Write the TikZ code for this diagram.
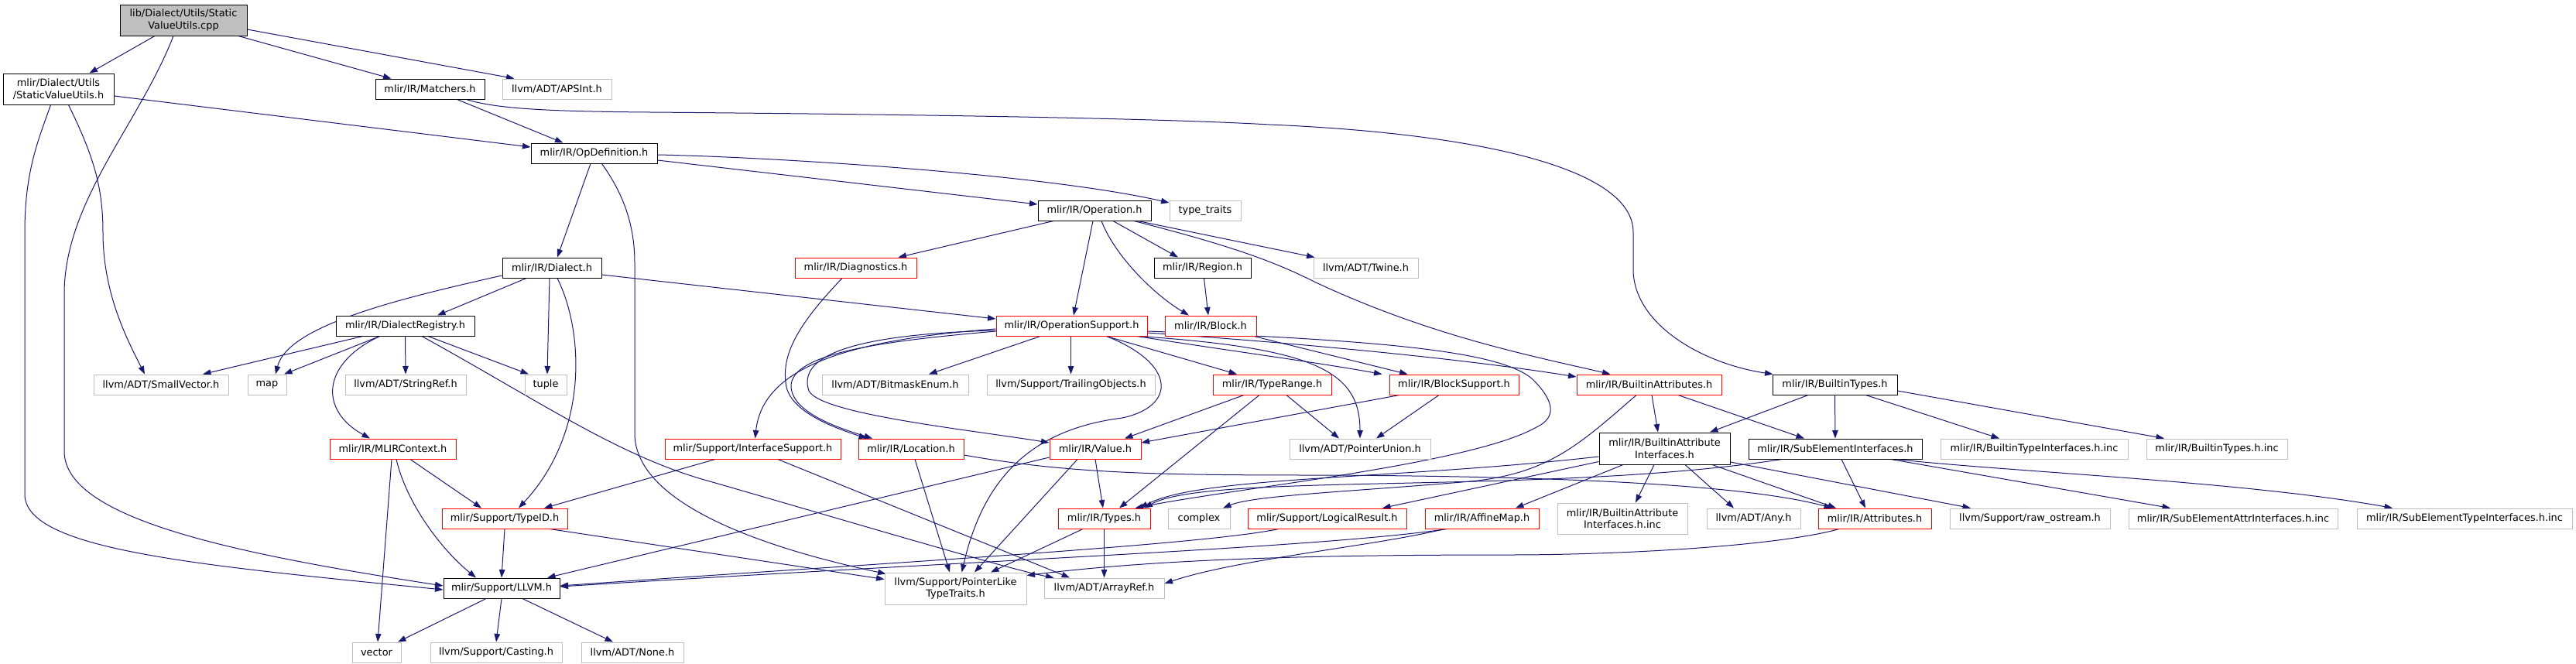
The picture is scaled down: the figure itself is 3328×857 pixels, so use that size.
\documentclass[tikz,border=0pt]{standalone}
\usepackage{fontspec}
\setmainfont{DejaVu Sans}
\usetikzlibrary{arrows.meta}
\pgfdeclarelayer{bg}
\pgfsetlayers{bg,main}
\definecolor{edgec}{HTML}{191970}
\definecolor{greyb}{HTML}{BFBFBF}
\definecolor{redb}{HTML}{FF0000}
\newcommand{\dxfont}{\fontsize{12.9}{15.5}\selectfont}
\tikzset{
  box/.style={rectangle, inner sep=0pt, minimum height=26pt, fill=white, line width=1pt, font=\dxfont, text=black},
  blk/.style={box, draw=black},
  ext/.style={box, draw=greyb},
  trn/.style={box, draw=redb},
  e/.style={draw=edgec, line width=1pt, -{Triangle[length=10.5pt,width=7.5pt]}},
}
\begin{document}
\begin{tikzpicture}[x=1pt,y=-1pt]
\useasboundingbox (0,0) rectangle (3328,857);
% ---------------- nodes ----------------
\node[blk, fill=greyb, minimum width=164pt, minimum height=40pt, align=center] (root) at (237,26) {lib/Dialect/Utils/Static\\ValueUtils.cpp};
\node[blk, minimum width=143pt, minimum height=40pt, align=center] (svu) at (75.5,115) {mlir/Dialect/Utils\\/StaticValueUtils.h};
\node[blk, minimum width=141pt] (matchers) at (555.5,115) {mlir/IR/Matchers.h};
\node[ext, minimum width=141pt] (apsint) at (719.5,115) {llvm/ADT/APSInt.h};
\node[blk, minimum width=163pt] (opdef) at (767.5,198) {mlir/IR/OpDefinition.h};
\node[blk, minimum width=146pt] (operation) at (1414,272) {mlir/IR/Operation.h};
\node[ext, minimum width=92pt] (typetraits) at (1557,272) {type\_traits};
\node[blk, minimum width=128pt] (dialect) at (713,346) {mlir/IR/Dialect.h};
\node[trn, minimum width=157pt] (diagnostics) at (1105.5,346) {mlir/IR/Diagnostics.h};
\node[blk, minimum width=125pt] (region) at (1553.5,346) {mlir/IR/Region.h};
\node[ext, minimum width=135pt] (twine) at (1764.5,346) {llvm/ADT/Twine.h};
\node[blk, minimum width=179pt] (dialreg) at (523.5,421) {mlir/IR/DialectRegistry.h};
\node[trn, minimum width=195pt] (opsupport) at (1384.5,421) {mlir/IR/OperationSupport.h};
\node[trn, minimum width=118pt] (block) at (1564,421) {mlir/IR/Block.h};
\node[ext, minimum width=174pt] (smallvec) at (208,497) {llvm/ADT/SmallVector.h};
\node[ext, minimum width=50pt] (map) at (345,497) {map};
\node[ext, minimum width=156pt] (stringref) at (524,497) {llvm/ADT/StringRef.h};
\node[ext, minimum width=54pt] (tuple) at (705,497) {tuple};
\node[ext, minimum width=189pt] (bitmask) at (1156.5,497) {llvm/ADT/BitmaskEnum.h};
\node[ext, minimum width=217pt] (trailing) at (1383.5,497) {llvm/Support/TrailingObjects.h};
\node[trn, minimum width=153pt] (typerange) at (1643.5,497) {mlir/IR/TypeRange.h};
\node[trn, minimum width=167pt] (blocksupport) at (1878.5,497) {mlir/IR/BlockSupport.h};
\node[trn, minimum width=187pt] (builtinattrs) at (2130.5,497) {mlir/IR/BuiltinAttributes.h};
\node[blk, minimum width=161pt] (builtintypes) at (2370.5,497) {mlir/IR/BuiltinTypes.h};
\node[trn, minimum width=163pt] (mlircontext) at (507.5,580) {mlir/IR/MLIRContext.h};
\node[trn, minimum width=227pt] (ifacesupport) at (972.5,580) {mlir/Support/InterfaceSupport.h};
\node[trn, minimum width=136pt] (location) at (1177,580) {mlir/IR/Location.h};
\node[trn, minimum width=118pt] (value) at (1415,580) {mlir/IR/Value.h};
\node[ext, minimum width=182pt] (ptrunion) at (1757,580) {llvm/ADT/PointerUnion.h};
\node[blk, minimum width=169pt, minimum height=41pt, align=center] (baiface) at (2150.5,579.5) {mlir/IR/BuiltinAttribute\\Interfaces.h};
\node[blk, minimum width=224pt] (subelem) at (2371,580) {mlir/IR/SubElementInterfaces.h};
\node[ext, minimum width=242pt] (btiinc) at (2628,580) {mlir/IR/BuiltinTypeInterfaces.h.inc};
\node[ext, minimum width=182pt] (btinc) at (2864,580) {mlir/IR/BuiltinTypes.h.inc};
\node[trn, minimum width=162pt] (typeid) at (652,670) {mlir/Support/TypeID.h};
\node[trn, minimum width=119pt] (types) at (1426.5,670) {mlir/IR/Types.h};
\node[ext, minimum width=80pt] (complex) at (1549,670) {complex};
\node[trn, minimum width=205pt] (logical) at (1714.5,670) {mlir/Support/LogicalResult.h};
\node[trn, minimum width=147pt] (affine) at (1914.5,670) {mlir/IR/AffineMap.h};
\node[ext, minimum width=168pt, minimum height=40pt, align=center] (baiinc) at (2096,670) {mlir/IR/BuiltinAttribute\\Interfaces.h.inc};
\node[ext, minimum width=121pt] (any) at (2265.5,670) {llvm/ADT/Any.h};
\node[trn, minimum width=146pt] (attributes) at (2422,670) {mlir/IR/Attributes.h};
\node[ext, minimum width=207pt] (rawostream) at (2622.5,670) {llvm/Support/raw\_ostream.h};
\node[ext, minimum width=270pt] (seainc) at (2885,670) {mlir/IR/SubElementAttrInterfaces.h.inc};
\node[ext, minimum width=278pt] (setinc) at (3184,670) {mlir/IR/SubElementTypeInterfaces.h.inc};
\node[blk, minimum width=150pt] (llvm) at (648,760) {mlir/Support/LLVM.h};
\node[ext, minimum width=183pt, minimum height=41pt, align=center] (ptrlike) at (1234.5,760.5) {llvm/Support/PointerLike\\TypeTraits.h};
\node[ext, minimum width=155pt] (arrayref) at (1426.5,760) {llvm/ADT/ArrayRef.h};
\node[ext, minimum width=63pt] (vector) at (486.5,843) {vector};
\node[ext, minimum width=170pt] (casting) at (641,843) {llvm/Support/Casting.h};
\node[ext, minimum width=132pt] (none) at (817,843) {llvm/ADT/None.h};
% ---------------- edges ----------------
\begin{pgfonlayer}{bg}
% root
\draw[e] ([xshift=-37pt]root.south) -- ([xshift=40pt]svu.north);
\draw[e] ([xshift=-13pt]root.south) .. controls (180,160) and (83,260) .. (83,380) -- (83,583) .. controls (83,670) and (300,715) .. ([yshift=3pt]llvm.west);
\draw[e] ([xshift=71pt]root.south) -- ([xshift=-50pt]matchers.north);
\draw[e] ([yshift=-12pt]root.east) -- ([xshift=-55pt]apsint.north);
% svu
\draw[e] ([yshift=-9pt]svu.east) -- ([yshift=8pt]opdef.west);
\draw[e] ([xshift=-10pt]svu.south) .. controls (50,180) and (32,220) .. (32,300) -- (32,640) .. controls (35,710) and (250,730) .. ([yshift=-2pt]llvm.west);
\draw[e] ([xshift=13pt]svu.south) .. controls (120,200) and (133,240) .. (133,300) .. controls (133,380) and (165,440) .. ([xshift=-21pt]smallvec.north);
% matchers
\draw[e] ([xshift=35pt]matchers.south) -- ([xshift=-40pt]opdef.north);
\draw[e] ([xshift=47pt]matchers.south) .. controls (640,140) and (700,144) .. (840,145) .. controls (1200,148) and (1500,153) .. (1640,161) .. controls (1900,172) and (2110,215) .. (2110,300) -- (2110,350) .. controls (2112,420) and (2200,470) .. ([xshift=-80pt]builtintypes.north);
% opdef
\draw[e] ([yshift=-9pt]opdef.east) -- ([yshift=8pt]operation.west);
\draw[e] ([yshift=-2pt]opdef.east) .. controls (1000,203) and (1350,225) .. ([yshift=10pt]typetraits.west);
\draw[e] ([xshift=-4.5pt]opdef.south) -- ([xshift=7pt]dialect.north);
\draw[e] ([xshift=10pt]opdef.south) .. controls (805,250) and (820,290) .. (820,340) -- (820,560) .. controls (820,640) and (950,700) .. ([xshift=2pt,yshift=-2pt]ptrlike.north west);
% operation
\draw[e] ([xshift=-53pt]operation.south) -- ([xshift=55pt]diagnostics.north);
\draw[e] ([xshift=-2pt]operation.south) -- ([xshift=2.5pt]opsupport.north);
\draw[e] ([xshift=9pt]operation.south) .. controls (1440,330) and (1490,380) .. ([xshift=-28pt]block.north);
\draw[e] ([xshift=24pt]operation.south) -- ([xshift=-31.5pt]region.north);
\draw[e] ([xshift=56pt]operation.south) -- ([xshift=2pt]twine.north west);
\draw[e] ([xshift=51pt]operation.south) .. controls (1600,320) and (1650,340) .. (1700,365) .. controls (1850,435) and (1980,460) .. ([xshift=-50pt]builtinattrs.north);
% region, diagnostics, dialect
\draw[e] ([xshift=2pt]region.south) -- ([xshift=-3pt]block.north);
\draw[e] ([xshift=-17.5pt]diagnostics.south) .. controls (1030,420) and (1008,460) .. (1016,500) .. controls (1024,535) and (1085,555) .. ([xshift=-57pt]location.north);
\draw[e] ([yshift=-9pt]dialect.east) -- ([yshift=9pt]opsupport.west);
\draw[e] ([xshift=-33pt]dialect.south) -- ([xshift=41.5pt]dialreg.north);
\draw[e] ([yshift=-10pt]dialect.west) .. controls (520,385) and (372,420) .. ([xshift=11pt]map.north);
\draw[e] ([xshift=-3pt]dialect.south) -- ([xshift=2pt]tuple.north);
\draw[e] ([xshift=7pt]dialect.south) .. controls (755,430) and (760,560) .. ([xshift=18pt]typeid.north);
% dialect registry
\draw[e] ([xshift=-55pt]dialreg.south) -- ([xshift=54pt]smallvec.north);
\draw[e] ([xshift=-33pt]dialreg.south) -- ([xshift=22pt]map.north);
\draw[e] ([xshift=-33pt]dialreg.south) .. controls (415,470) and (412,530) .. ([xshift=-29.5pt]mlircontext.north);
\draw[e] (dialreg.south) -- (stringref.north);
\draw[e] ([xshift=29.5pt]dialreg.south) -- ([xshift=-22pt]tuple.north);
\draw[e] ([xshift=21.5pt]dialreg.south) .. controls (700,520) and (800,590) .. (917,622) .. controls (1050,660) and (1300,735) .. ([xshift=-65pt]arrayref.north);
% mlircontext, typeid, llvm
\draw[e] ([xshift=22.5pt]mlircontext.south) -- ([xshift=-30pt]typeid.north);
\draw[e] ([xshift=4.5pt]mlircontext.south) .. controls (525,650) and (570,710) .. ([xshift=-33pt]llvm.north);
\draw[e] ([xshift=-1.5pt]mlircontext.south) -- ([xshift=1.5pt]vector.north);
\draw[e] (typeid.south) -- (llvm.north);
\draw[e] ([xshift=58pt]typeid.south) -- ([yshift=12pt]ptrlike.west);
\draw[e] ([xshift=-20pt]llvm.south) -- ([xshift=27.5pt]vector.north);
\draw[e] (llvm.south) -- (casting.north);
\draw[e] ([xshift=27pt]llvm.south) -- ([xshift=-25pt]none.north);
% operation support
\draw[e] ([yshift=-4pt]opsupport.west) .. controls (1080,440) and (985,480) .. ([xshift=3pt]ifacesupport.north);
\draw[e] ([yshift=-7pt]opsupport.west) .. controls (1150,440) and (1020,455) .. (1022,500) .. controls (1024,535) and (1090,555) .. ([xshift=-50pt]location.north);
\draw[e] ([yshift=-6pt]opsupport.west) .. controls (1100,432) and (1030,460) .. (1045,505) .. controls (1060,535) and (1250,555) .. ([yshift=8pt]value.west);
\draw[e] ([xshift=-40.5pt]opsupport.south) -- ([xshift=43.5pt]bitmask.north);
\draw[e] ([xshift=-1pt]opsupport.south) -- (trailing.north);
\draw[e] ([xshift=45pt]opsupport.south) -- ([xshift=-45.5pt]typerange.north);
\draw[e] ([xshift=45pt]opsupport.south) .. controls (1520,470) and (1520,525) .. (1450,540) .. controls (1330,555) and (1270,620) .. ([xshift=8pt]ptrlike.north);
\draw[e] ([xshift=84.5pt]opsupport.south) .. controls (1600,455) and (1700,468) .. ([xshift=-93pt]blocksupport.north);
\draw[e] ([xshift=87pt]opsupport.south) .. controls (1700,450) and (1757,480) .. (ptrunion.north);
\draw[e] ([yshift=-9pt]opsupport.east) .. controls (1700,445) and (1900,465) .. ([yshift=10pt]builtinattrs.west);
\draw[e] ([yshift=-7pt]opsupport.east) .. controls (1800,440) and (1940,455) .. (1980,490) .. controls (2010,520) and (2010,540) .. (1985,552) .. controls (1900,600) and (1600,630) .. ([xshift=40pt]types.north);
% type range, block, block support
\draw[e] ([xshift=-36.5pt]typerange.south) -- ([xshift=38pt]value.north);
\draw[e] ([xshift=-16.5pt]typerange.south) -- ([xshift=19.5pt]types.north);
\draw[e] ([xshift=18.5pt]typerange.south) -- ([xshift=-27pt]ptrunion.north);
\draw[e] ([xshift=56pt]block.south) -- ([xshift=-60pt]blocksupport.north);
\draw[e] ([xshift=-70.5pt]blocksupport.south) -- ([yshift=8pt]value.east);
\draw[e] ([xshift=-19.5pt]blocksupport.south) -- ([xshift=21pt]ptrunion.north);
% location, value, interface support, types
\draw[e] ([xshift=5pt]location.south) -- ([xshift=-7.5pt]ptrlike.north);
\draw[e] ([yshift=-8pt]location.east) .. controls (1380,612) and (1500,614) .. (1700,614) .. controls (2000,615) and (2250,625) .. ([xshift=-55pt]attributes.north);
\draw[e] (value.south) -- ([xshift=-1.5pt]types.north);
\draw[e] ([xshift=-23pt]value.south) -- ([xshift=24.5pt]ptrlike.north);
\draw[e] ([yshift=-11pt]value.west) -- ([xshift=59pt]llvm.north);
\draw[e] ([xshift=-48.5pt]ifacesupport.south) -- ([xshift=51pt]typeid.north);
\draw[e] ([xshift=32.5pt]ifacesupport.south) -- ([xshift=-44.5pt]arrayref.north);
\draw[e] ([xshift=-27.5pt]types.south) -- ([xshift=45.5pt]ptrlike.north);
\draw[e] (types.south) -- (arrayref.north);
% builtin attributes
\draw[e] ([xshift=3.5pt]builtinattrs.south) -- ([xshift=-8.5pt]baiface.north);
\draw[e] ([xshift=37.5pt]builtinattrs.south) -- ([xshift=-40pt]subelem.north);
\draw[e] ([xshift=-16.5pt]builtinattrs.south) .. controls (2040,575) and (2000,612) .. (1900,622) .. controls (1750,635) and (1620,640) .. ([xshift=31pt]complex.north);
% builtin types
\draw[e] ([xshift=-34.5pt]builtintypes.south) -- ([xshift=58.5pt]baiface.north);
\draw[e] (builtintypes.south) -- (subelem.north);
\draw[e] ([xshift=40pt]builtintypes.south) -- ([xshift=-45pt]btiinc.north);
\draw[e] ([yshift=-8pt]builtintypes.east) -- ([xshift=-68pt]btinc.north);
% builtin attribute interfaces
\draw[e] ([yshift=-10.5pt]baiface.west) .. controls (1800,620) and (1550,615) .. ([xshift=46pt]types.north);
\draw[e] ([yshift=-17pt]baiface.west) -- ([xshift=71.5pt]logical.north);
\draw[e] ([xshift=-53.5pt]baiface.south) -- ([xshift=43.5pt]affine.north);
\draw[e] ([xshift=-13.5pt]baiface.south) -- ([xshift=17pt]baiinc.north);
\draw[e] ([xshift=26.5pt]baiface.south) -- ([xshift=-25.5pt]any.north);
\draw[e] ([xshift=61.5pt]baiface.south) -- ([xshift=-50pt]attributes.north);
\draw[e] ([yshift=-17.5pt]baiface.east) -- ([xshift=-76.5pt]rawostream.north);
% sub element interfaces
\draw[e] ([xshift=8pt]subelem.south) -- ([xshift=-12pt]attributes.north);
\draw[e] ([xshift=-69pt]subelem.south) .. controls (2000,640) and (1560,610) .. ([xshift=52pt]types.north);
\draw[e] ([xshift=72pt]subelem.south) -- ([xshift=-81pt]seainc.north);
\draw[e] ([xshift=79pt]subelem.south) .. controls (2600,610) and (2900,622) .. ([xshift=-93pt]setinc.north);
% attributes, affine map, logical result
\draw[e] ([xshift=-46pt]attributes.south) .. controls (2300,705) and (2100,717) .. (1950,717) .. controls (1700,717) and (1500,722) .. ([yshift=17pt]ptrlike.east);
\draw[e] ([xshift=-44.5pt]affine.south) .. controls (1700,708) and (1300,722) .. ([yshift=2pt]llvm.east);
\draw[e] ([xshift=-48.5pt]affine.south) .. controls (1780,705) and (1600,722) .. ([yshift=6pt]arrayref.east);
\draw[e] ([xshift=-62.5pt]logical.south) .. controls (1550,705) and (1100,730) .. ([yshift=3pt]llvm.east);
\end{pgfonlayer}
\end{tikzpicture}
\end{document}
